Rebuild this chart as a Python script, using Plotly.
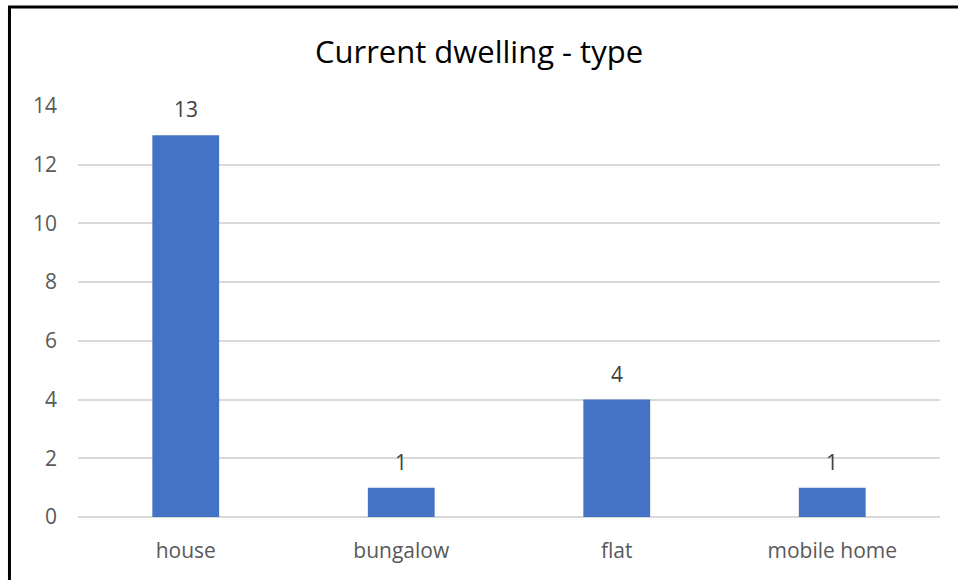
import plotly.graph_objects as go

categories = ["house", "bungalow", "flat", "mobile home"]
counts = [13, 1, 4, 1]
y_ticks = [0, 2, 4, 6, 8, 10, 12, 14]

FONT = "Open Sans, Liberation Sans, sans-serif"

fig = go.Figure()
fig.add_trace(go.Bar(
    x=categories, y=counts,
    marker=dict(color="#4472C4", line=dict(width=0)),
    hoverinfo="x+y",
))

for c, v in zip(categories, counts):
    fig.add_annotation(x=c, y=v, text=str(v), showarrow=False,
                       xref="x", yref="y", yanchor="bottom", yshift=10,
                       font=dict(size=21, color="#404040", family=FONT))

fig.update_layout(
    width=958, height=580,
    margin=dict(l=78, r=18, t=106, b=63),
    paper_bgcolor="white", plot_bgcolor="white",
    bargap=0.69,
    showlegend=False,
    title=dict(text="Current dwelling - type", x=0.5, xanchor="center",
               y=1 - 52/580, yanchor="middle",
               font=dict(size=31, color="#000000", family=FONT)),
    xaxis=dict(showgrid=False, showline=False, zeroline=False,
               tickfont=dict(size=21, color="#595959", family=FONT),
               ticks="", ticklabelstandoff=19),
    yaxis=dict(range=[0, 14], tickvals=y_ticks, showgrid=True,
               gridcolor="#D9D9D9", gridwidth=1.5, zeroline=True,
               zerolinecolor="#D9D9D9", zerolinewidth=1.5, showline=False,
               tickfont=dict(size=21, color="#595959", family=FONT),
               ticks="", ticklabelstandoff=20),
    shapes=[
        dict(type="line", xref="paper", yref="paper", x0=-0.0795, x1=-0.0795,
             y0=-0.2, y1=1.241, line=dict(color="black", width=3)),
        dict(type="line", xref="paper", yref="paper", x0=-0.0812, x1=1.05,
             y0=1.241, y1=1.241, line=dict(color="black", width=3)),
    ],
)

fig.write_html("out.html", config={"displayModeBar": False},
               post_script="document.body.style.margin='0';")
